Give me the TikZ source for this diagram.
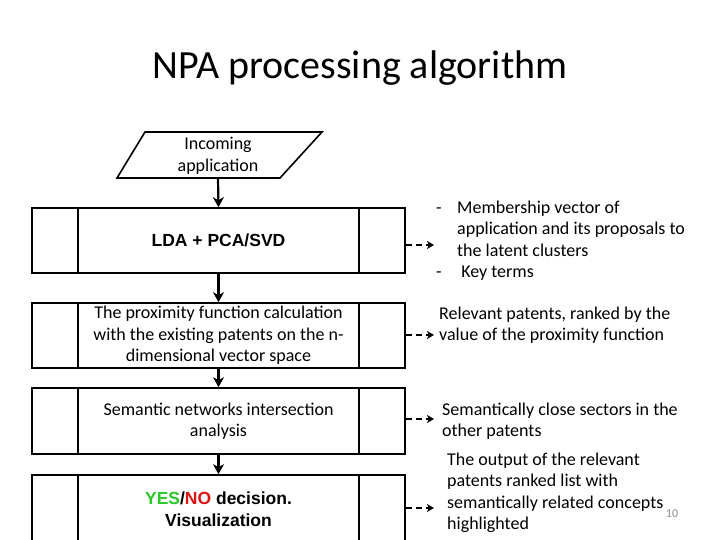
\documentclass[tikz,border=0pt]{standalone}
\usepackage{fontspec}
\setmainfont{Carlito}
\newfontfamily\arialfont{Liberation Sans}
\usetikzlibrary{arrows.meta}
\definecolor{yesgreen}{RGB}{40,200,40}
\definecolor{nored}{RGB}{220,20,20}
\definecolor{pagegray}{RGB}{140,140,140}
\begin{document}
\begin{tikzpicture}[x=1pt,y=-1pt,
  procbox/.style={draw,line width=1.6pt,minimum width=373pt,inner sep=0pt,align=center,font=\fontsize{18}{21.5}\selectfont},
  boldbox/.style={procbox,font=\arialfont\bfseries\fontsize{17.5}{21.5}\selectfont},
  flowarr/.style={line width=2.2pt,-{Stealth[length=10pt,width=11pt,inset=3pt]}},
  dasharr/.style={line width=2pt,dash pattern=on 6pt off 4pt,-{Stealth[length=7pt,width=8pt,inset=2pt]}},
  bodytext/.style={anchor=west,inner sep=0pt,align=left,font=\fontsize{18}{21.5}\selectfont}]
\useasboundingbox (0,0) rectangle (720,540);
\fill[white] (0,0) rectangle (720,540);
% title
\node (title) at (360,68) {\fontsize{40}{44}\selectfont NPA processing algorithm};
% input parallelogram
\draw[line width=1.6pt] (145,132) -- (322,132) -- (280,178) -- (117,178) -- cycle;
\node[align=center,font=\fontsize{18}{21.5}\selectfont] (inc) at (218,156) {Incoming\\application};
\coordinate (incb) at (218,178);
% process boxes
\node[boldbox,minimum height=65pt] (b1) at (218.5,240.5) {LDA + PCA/SVD};
\node[procbox,minimum height=65pt] (b2) at (218.5,335.5) {The proximity function calculation\\with the existing patents on the n-\\dimensional vector space};
\node[procbox,minimum height=66pt] (b3) at (218.5,421) {Semantic networks intersection\\analysis};
\node[boldbox,minimum height=68pt] (b4) at (218.5,509) {\textcolor{yesgreen}{YES}/\textcolor{nored}{NO} decision.\\Visualization};
\foreach \b in {b1,b2,b3,b4}{
  \draw[line width=1.6pt] ([xshift=47pt]\b.north west) -- ([xshift=47pt]\b.south west);
  \draw[line width=1.6pt] ([xshift=-47pt]\b.north east) -- ([xshift=-47pt]\b.south east);
}
% flow arrows
\draw[flowarr] (incb) -- (b1.north);
\draw[flowarr] (b1.south) -- (b2.north);
\draw[flowarr] (b2.south) -- (b3.north);
\draw[flowarr] (b3.south) -- (b4.north);
% dashed arrows
\coordinate (d1) at (434,245);
\coordinate (d2) at (434,335);
\coordinate (d3) at (434,419);
\coordinate (d4) at (434,508);
\draw[dasharr] (b1.east |- d1) -- (d1);
\draw[dasharr] (b2.east |- d2) -- (d2);
\draw[dasharr] (b3.east |- d3) -- (d3);
\draw[dasharr] (b4.east |- d4) -- (d4);
% right texts
\node[bodytext] (t1) at (436,241) {\begin{tabular}{@{}p{21pt}@{}l@{}}
-&Membership vector of\\
&application and its proposals to\\
&the latent clusters\\
-&\ Key terms
\end{tabular}};
\node[bodytext] (t2) at (439,325) {Relevant patents, ranked by the\\value of the proximity function};
\node[bodytext] (t3) at (442,421) {Semantically close sectors in the\\other patents};
\node[bodytext] (t4) at (447,493) {The output of the relevant\\patents ranked list with\\semantically related concepts\\highlighted};
\node[text=pagegray,font=\fontsize{12}{14}\selectfont] (pg) at (672,514) {10};
\end{tikzpicture}
\end{document}
